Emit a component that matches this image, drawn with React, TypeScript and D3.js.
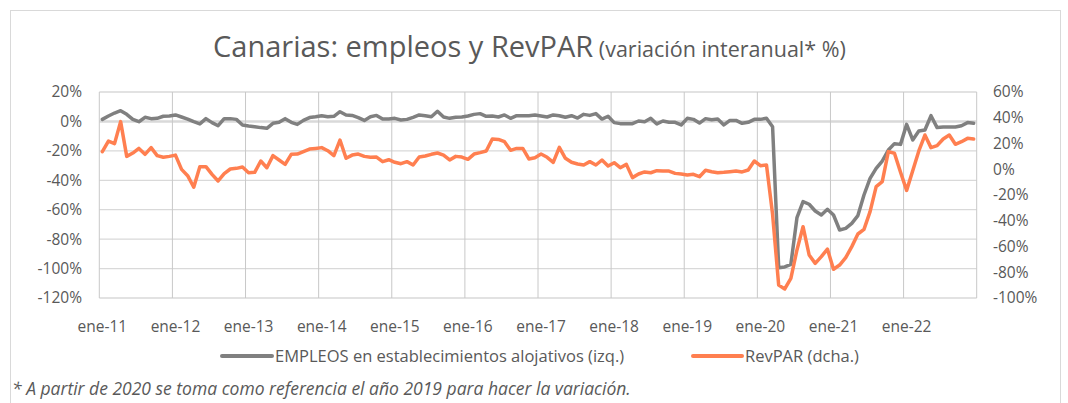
import React from 'react';
import * as d3 from 'd3';

// Empleos en establecimientos alojativos, var. interanual (%), ene-11 .. dic-22 (eje izq.)
const empleos = [
  1.4, 3.7, 5.7, 7.3, 4.8, 1.4, -0.2, 2.8, 1.9, 2.1, 3.5, 3.7,
  4.4, 3.0, 1.6, -0.2, -1.7, 1.9, -0.8, -2.9, 1.9, 1.9, 1.4, -2.4,
  -3.1, -3.6, -4.2, -4.7, -1.3, -0.6, 1.9, -0.6, -2.0, 0.7, 2.6, 3.2,
  3.9, 3.2, 3.5, 6.6, 4.4, 4.1, 2.6, 0.7, 3.2, 4.1, 1.6, 1.6,
  2.1, 1.0, 1.4, 2.8, 4.4, 3.9, 3.2, 6.9, 3.0, 2.1, 2.8, 3.0,
  3.7, 4.8, 5.3, 3.5, 3.7, 3.0, 4.4, 2.1, 3.9, 3.9, 3.9, 4.4,
  3.7, 3.0, 4.4, 3.9, 2.8, 3.9, 2.3, 4.8, 4.1, 5.3, 1.6, 3.5,
  -0.8, -1.5, -1.5, -1.5, 0.3, -0.2, 2.1, -1.7, 0.3, -0.6, -0.6, -2.4,
  2.1, 1.4, -1.1, 1.9, 1.2, 1.6, -2.4, 0.7, 0.7, -1.3, -0.6, 1.4,
  1.4, 2.1, -3.6, -99.4, -98.9, -97.1, -65.4, -54.5, -56.3, -60.9, -63.6, -59.7,
  -63.6, -73.8, -72.7, -69.3, -64.0, -50.0, -38.7, -31.9, -26.9, -19.4, -15.1, -15.6,
  -2.0, -12.6, -6.5, -5.8, 3.9, -4.2, -3.8, -3.8, -3.8, -2.9, -0.8, -1.3,
];

// RevPAR, var. interanual (%), ene-11 .. dic-22 (eje dcha.)
const revpar = [
  13.7, 21.9, 19.9, 37.0, 10.0, 12.6, 16.2, 11.6, 16.8, 10.6, 9.3, 10.0,
  11.0, -0.1, -5.0, -14.0, 2.0, 2.0, -4.0, -9.1, -3.4, 0.2, 0.7, 1.7,
  -2.7, -2.4, 6.4, 1.2, 10.6, 7.2, 3.8, 11.6, 11.8, 13.7, 15.7, 16.2,
  16.8, 14.4, 10.6, 22.7, 8.5, 11.0, 11.8, 10.0, 9.3, 9.5, 5.9, 7.4,
  5.4, 4.3, 5.9, 3.3, 9.5, 10.3, 11.6, 12.6, 11.0, 7.2, 10.0, 9.5,
  7.7, 11.8, 12.9, 14.2, 23.5, 23.2, 21.4, 14.7, 16.2, 16.2, 8.0, 9.0,
  11.8, 9.3, 5.4, 17.0, 8.5, 5.4, 4.1, 3.3, 5.9, 3.3, 7.2, 2.5,
  5.1, 1.2, 3.8, -6.5, -3.7, -2.1, -2.7, -1.1, -1.4, -1.4, -3.2, -3.7,
  -4.5, -3.9, -5.8, -0.8, -1.9, -2.7, -2.4, -1.9, -1.4, -2.1, -0.6, 6.4,
  2.8, 3.3, -35.0, -90.0, -93.0, -84.7, -62.7, -44.6, -66.6, -73.1, -67.9, -62.0,
  -77.7, -74.4, -68.7, -60.1, -50.3, -46.7, -32.9, -13.5, -9.6, 13.7, 12.4, -2.4,
  -16.4, -1.1, 14.2, 26.6, 16.8, 18.3, 23.5, 26.6, 19.4, 21.4, 24.0, 23.5,
];

const yearLabels = ['ene-11', 'ene-12', 'ene-13', 'ene-14', 'ene-15', 'ene-16', 'ene-17', 'ene-18', 'ene-19', 'ene-20', 'ene-21', 'ene-22'];
const leftTicks = [20, 0, -20, -40, -60, -80, -100, -120];
const rightTicks = [60, 40, 20, 0, -20, -40, -60, -80, -100];

const W = 1068;
const H = 403;
const margin = { left: 99.3, right: 976.7, top: 92, bottom: 298 };
const FONT = '"Open Sans", Lato, sans-serif';
const TXT = '#595959';
const GREY = '#808080';
const ORANGE = '#ff7f50';

export default function App() {
  const n = empleos.length;
  const x = d3.scaleBand<number>().domain(d3.range(n)).range([margin.left, margin.right]);
  const cx = (i: number) => (x(i) as number) + x.bandwidth() / 2;
  const yL = d3.scaleLinear().domain([-120, 20]).range([margin.bottom, margin.top]);
  const yR = d3.scaleLinear().domain([-100, 60]).range([margin.bottom, margin.top]);

  const lineL = d3.line<number>().x((_, i) => cx(i)).y(d => yL(d));
  const lineR = d3.line<number>().x((_, i) => cx(i)).y(d => yR(d));

  // vertical gridlines every 12 months, on the category boundaries
  const gridX = d3.range(0, n + 1, 12).map(i => (i < n ? (x(i) as number) : margin.right));

  return (
    <svg width={W} height={H} style={{ position: 'absolute', left: 0, top: 0, background: '#fff' }} fontFamily={FONT}>
      <rect x={10.5} y={10.5} width={1050} height={410} fill="#fff" stroke="#d9d9d9" />

      <text x={213} y={57} fill={TXT}>
        <tspan fontSize={29}>Canarias: empleos y RevPAR</tspan>
        <tspan fontSize={21.5}> (variación interanual* %)</tspan>
      </text>

      {/* gridlines */}
      {leftTicks.map(t => (
        <line key={'h' + t} x1={margin.left} x2={margin.right} y1={yL(t)} y2={yL(t)}
          stroke="#d9d9d9" strokeWidth={t === 0 ? 2.5 : 1.3} />
      ))}
      {gridX.map((gx, k) => (
        <line key={'v' + k} x1={gx} x2={gx} y1={margin.top} y2={margin.bottom} stroke="#c8c8c8" strokeWidth={1} />
      ))}

      {/* axes labels */}
      {leftTicks.map(t => (
        <text key={'l' + t} x={82} y={yL(t)} dy="0.35em" textAnchor="end" fontSize={15.5} fill={TXT}>{t}%</text>
      ))}
      {rightTicks.map(t => (
        <text key={'r' + t} x={993} y={yR(t)} dy="0.35em" textAnchor="start" fontSize={15.5} fill={TXT}>{t}%</text>
      ))}
      {yearLabels.map((lab, k) => (
        <text key={lab} x={cx(k * 12)} y={332} textAnchor="middle" fontSize={15.5} fill={TXT}>{lab}</text>
      ))}

      {/* series */}
      <path d={lineL(empleos) || ''} fill="none" stroke={GREY} strokeWidth={3.5} strokeLinejoin="round" strokeLinecap="round" />
      <path d={lineR(revpar) || ''} fill="none" stroke={ORANGE} strokeWidth={3.5} strokeLinejoin="round" strokeLinecap="round" />

      {/* legend */}
      <line x1={222} x2={272} y1={356} y2={356} stroke={GREY} strokeWidth={4} strokeLinecap="round" />
      <text x={275} y={362} fontSize={16.5} fill={TXT}>EMPLEOS en establecimientos alojativos (izq.)</text>
      <line x1={693} x2={742} y1={356} y2={356} stroke={ORANGE} strokeWidth={4} strokeLinecap="round" />
      <text x={745} y={362} fontSize={16.5} fill={TXT}>RevPAR (dcha.)</text>

      <text x={12} y={395} fontSize={17.5} fontStyle="italic" fill={TXT}>
        * A partir de 2020 se toma como referencia el año 2019 para hacer la variación.
      </text>
    </svg>
  );
}
